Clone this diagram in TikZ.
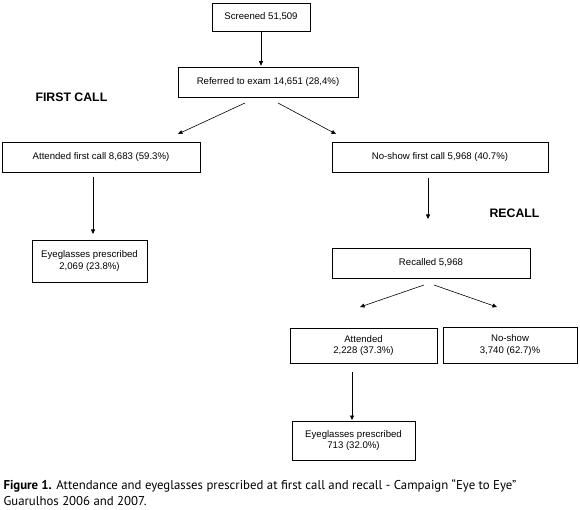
\documentclass[tikz,border=0pt]{standalone}
\usepackage{fontspec}
\setmainfont{Liberation Sans}
\newfontfamily\capfont{PT Sans}
\usetikzlibrary{arrows.meta}
\begin{document}
\begin{tikzpicture}[x=1pt,y=-1pt,
  box/.style={draw, line width=0.6pt, inner sep=0pt, font=\fontsize{9.6}{11.5}\selectfont, align=center},
  arr/.style={-{Triangle[width=4pt,length=4.5pt]}, line width=0.6pt},
  lbl/.style={font=\fontsize{12.3}{13}\selectfont\bfseries}]
\useasboundingbox (0,0) rectangle (580,510);
\node[box, minimum width=98pt, minimum height=28pt] (scr) at (261,17) {Screened 51,509};
\node[box, minimum width=180pt, minimum height=30pt] (ref) at (268,82) {Referred to exam 14,651 (28,4\%)};
\node[lbl, anchor=west] (fc) at (32,97) {FIRST CALL};
\node[box, minimum width=198pt, minimum height=30pt] (att1) at (101,157) {Attended first call 8,683 (59.3\%)};
\node[box, minimum width=216pt, minimum height=30pt] (ns1) at (440,157) {No-show first call 5,968 (40.7\%)};
\node[lbl, anchor=west] (rc) at (486,213) {RECALL};
\node[box, minimum width=115pt, minimum height=42pt] (eg1) at (89.5,261) {Eyeglasses prescribed\\2,069 (23.8\%)};
\node[box, minimum width=198pt, minimum height=30pt] (rec) at (431,263) {Recalled 5,968};
\node[box, minimum width=147pt, minimum height=35pt] (att2) at (363.5,345.5) {Attended\\2,228 (37.3\%)};
\node[box, minimum width=134pt, minimum height=36pt] (ns2) at (510,345) {No-show\\3,740 (62.7)\%};
\node[box, minimum width=123pt, minimum height=39pt] (eg2) at (353.5,440.5) {Eyeglasses prescribed\\713 (32.0\%)};
\draw[arr] (scr.south) -- ([yshift=1pt]scr.south |- ref.north);
\coordinate (r1) at (245,103); \coordinate (r1e) at (178,134);
\coordinate (r2) at (278,103); \coordinate (r2e) at (336,134);
\draw[arr] (r1) -- (r1e);
\draw[arr] (r2) -- (r2e);
\coordinate (l1) at (93,177); \coordinate (l1e) at (93,234);
\draw[arr] (l1) -- (l1e);
\coordinate (n1) at (428,178); \coordinate (n1e) at (428,219);
\draw[arr] (n1) -- (n1e);
\coordinate (c1) at (424,285); \coordinate (c1e) at (360,307);
\coordinate (c2) at (434,285); \coordinate (c2e) at (497,307);
\draw[arr] (c1) -- (c1e);
\draw[arr] (c2) -- (c2e);
\coordinate (a1) at (352,372); \coordinate (a1e) at (352,420);
\draw[arr] (a1) -- (a1e);
\node[anchor=west, font=\capfont\fontsize{12.8}{16}\selectfont, align=left] (cap) at (0,493) {\textbf{Figure 1.} Attendance and eyeglasses prescribed at first call and recall - Campaign “Eye to Eye”\\Guarulhos 2006 and 2007.};
\end{tikzpicture}
\end{document}
